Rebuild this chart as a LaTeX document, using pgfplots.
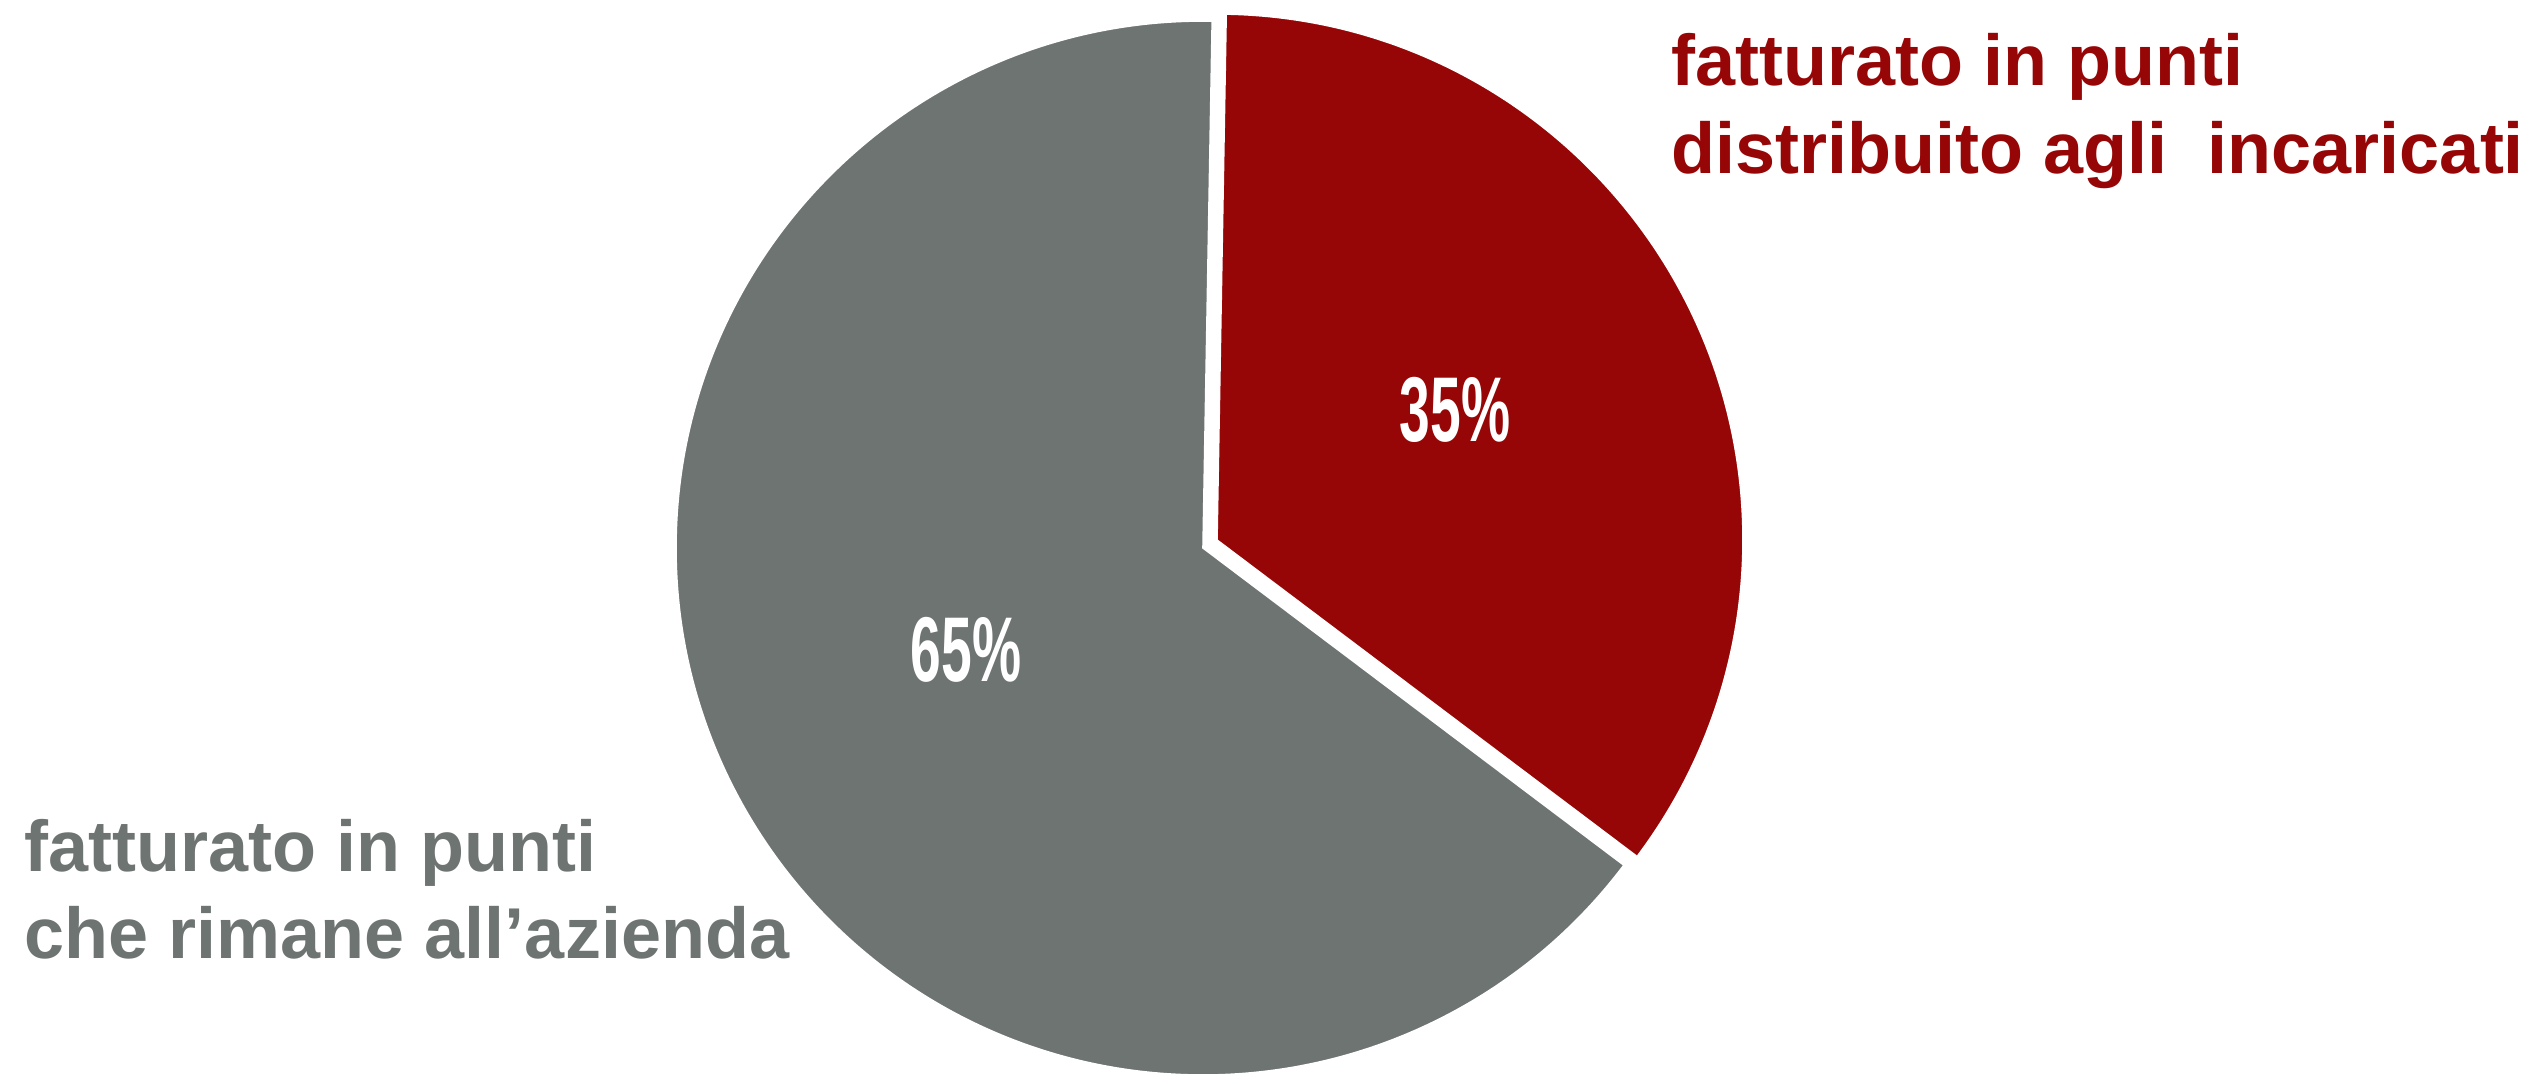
\documentclass[border=0pt]{standalone}
\usepackage{pgfplots}
\usepackage{pgfplotstable}
\pgfplotsset{compat=1.18}
\usepackage{fontspec}
\setmainfont{Liberation Sans}
\newfontfamily\pctfont[FakeStretch=0.6]{Liberation Sans}
\definecolor{pieRed}{RGB}{151,6,6}
\definecolor{pieGray}{RGB}{109,116,113}
\pgfplotstableread{
label value
incaricati 35
azienda 65
}\piedata
\pgfplotstablegetelem{0}{value}\of\piedata
\pgfmathsetmacro{\valA}{\pgfplotsretval}
\pgfplotstablegetelem{1}{value}\of\piedata
\pgfmathsetmacro{\valB}{\pgfplotsretval}
\pgfmathsetmacro{\startA}{89}
\pgfmathsetmacro{\endA}{\startA-3.6*\valA}
\pgfmathsetmacro{\endB}{\startA+3.6*\valB}
\begin{document}%
\begin{tikzpicture}
\begin{axis}[
  width=635.5pt, height=268.75pt, scale only axis,
  xmin=0, xmax=2542, ymin=0, ymax=1075, y dir=reverse,
  hide axis, clip=false,
]
% invisible frame fixing the picture size
\path[use as bounding box] (axis cs:0,0) rectangle (axis cs:2542,1075);
% gray slice (65%)
\path (axis cs:1203,548) coordinate (cg);
\fill[pieGray, draw=white, line width=0.4pt] (cg) -- ++(\startA:131.75pt) arc[start angle=\startA, end angle=\endB, radius=131.75pt] -- cycle;
% red slice (35%), exploded
\path (axis cs:1217,540) coordinate (cr);
\fill[pieRed, draw=white, line width=0.4pt] (cr) -- ++(\startA:131.5pt) arc[start angle=\startA, end angle=\endA, radius=131.5pt] -- cycle;
% percentages
\node[white, inner sep=0pt, font=\pctfont\bfseries\fontsize{23}{23}\selectfont] at (axis cs:1455,410) {35\%};
\node[white, inner sep=0pt, font=\pctfont\bfseries\fontsize{23}{23}\selectfont] at (axis cs:966,650) {65\%};
% labels
\node[pieRed, anchor=base west, inner sep=0pt, font=\bfseries\fontsize{18}{22}\selectfont] at (axis cs:1671,85) {fatturato in punti};
\node[pieRed, anchor=base west, inner sep=0pt, font=\bfseries\fontsize{18}{22}\selectfont] at (axis cs:1671,173) {distribuito agli\ \ incaricati};
\node[pieGray, anchor=base west, inner sep=0pt, font=\bfseries\fontsize{18}{22}\selectfont] at (axis cs:24,871) {fatturato in punti};
\node[pieGray, anchor=base west, inner sep=0pt, font=\bfseries\fontsize{18}{22}\selectfont] at (axis cs:24,958) {che rimane all’azienda};
\end{axis}
\end{tikzpicture}%
\end{document}
